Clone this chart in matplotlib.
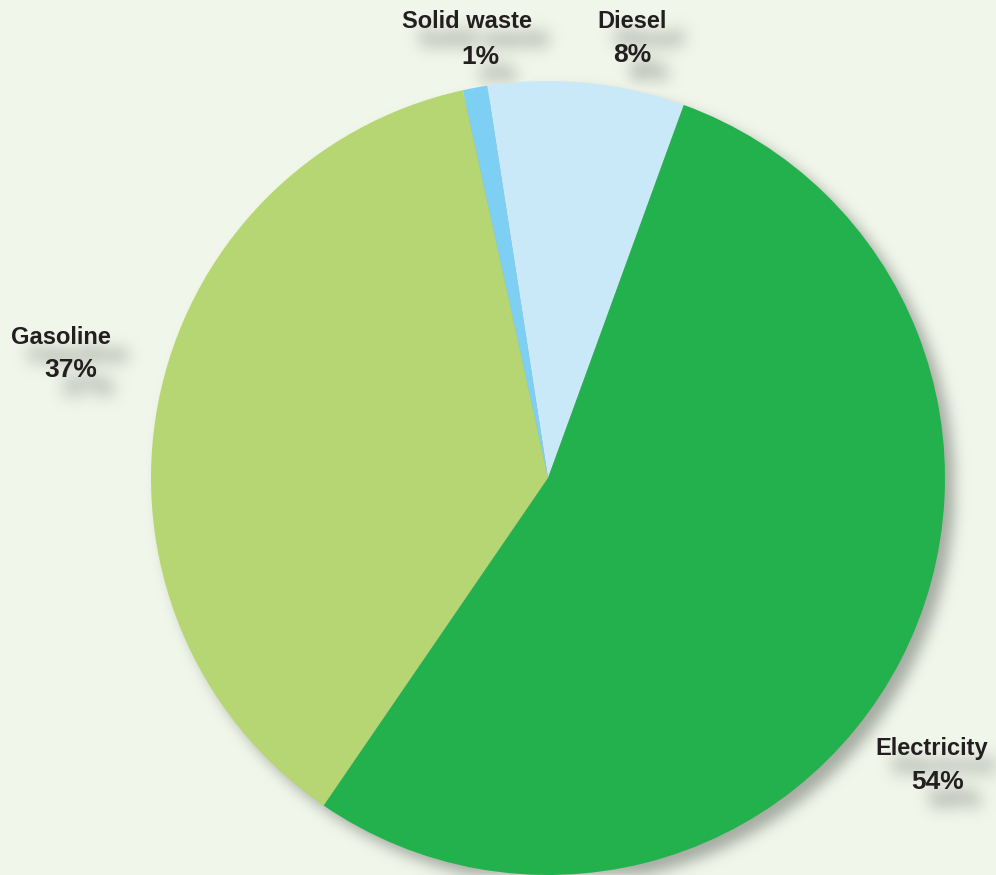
import numpy as np
import matplotlib
matplotlib.use('Agg')
import matplotlib.pyplot as plt

# fuel shares, counter-clockwise from the diesel/electricity boundary
fuels = ['Diesel', 'Solid waste', 'Gasoline', 'Electricity']
shares = [8, 1, 37, 54]
colours = ['#C9E9F9', '#7DD0F3', '#B5D673', '#23B14D']

W, H = 996, 875
bg = '#F1F6EA'
txt_col = '#231F20'
font = ['Liberation Sans Narrow', 'Liberation Sans', 'DejaVu Sans']
fsize = 17
psize = 19

cx, cy, rad = 548, 478, 397
# label placement (pixel coords, line 1 centre / line 2 centre)
lab_pos = {'Solid waste': (467, 22, 480, 57),
           'Diesel': (632, 21, 632, 55),
           'Gasoline': (61, 338, 71, 370),
           'Electricity': (932, 748, 938, 782)}


def gauss_blur(img, sigma):
    n = int(3 * sigma)
    k = np.exp(-0.5 * (np.arange(-n, n + 1) / sigma) ** 2)
    k = k / k.sum()
    out = np.array([np.convolve(r, k, mode='same') for r in img])
    out = np.array([np.convolve(c, k, mode='same') for c in out.T]).T
    return out


def draw_labels(ax, dx=0, dy=0, col=txt_col):
    for f, v in zip(fuels, shares):
        x1, y1, x2, y2 = lab_pos[f]
        ax.text(x1 + dx, H - y1 - dy, f, ha='center', va='center', fontsize=fsize,
                fontweight='bold', family=font, color=col)
        ax.text(x2 + dx, H - y2 - dy, '%d%%' % v, ha='center', va='center', fontsize=psize,
                fontweight='bold', family=font, color=col)


# offscreen pass to get a mask of the label text for the soft shadows
tmp = plt.figure(figsize=(W / 100, H / 100), dpi=100)
tax = tmp.add_axes([0, 0, 1, 1])
tax.set_xlim(0, W)
tax.set_ylim(0, H)
tax.axis('off')
draw_labels(tax, dx=17, dy=18, col='k')
tmp.canvas.draw()
buf = np.asarray(tmp.canvas.buffer_rgba())[:, :, 0].astype(float)
plt.close(tmp)
txt_mask = 1 - buf / 255.0
txt_mask = np.clip(gauss_blur(txt_mask, 8) * 2.2, 0, 1)

# drop shadow of the pie
yy, xx = np.mgrid[0:H, 0:W]
disk = (((xx - cx - 9) ** 2 + (yy - cy - 9) ** 2) <= rad ** 2).astype(float)
pie_sh = gauss_blur(disk, 7) * 0.6

alpha = np.clip(np.maximum(pie_sh, txt_mask * 0.4), 0, 1)
shadow = np.zeros((H, W, 4))
shadow[:, :, 0] = 0.45
shadow[:, :, 1] = 0.48
shadow[:, :, 2] = 0.45
shadow[:, :, 3] = alpha

fig = plt.figure(figsize=(W / 100, H / 100), dpi=100, facecolor=bg)
ax = fig.add_axes([0, 0, 1, 1])
ax.set_facecolor(bg)
ax.imshow(shadow, extent=(0, W, 0, H), origin='upper', zorder=1, interpolation='bilinear')
wedges, _ = ax.pie(shares, colors=colours, startangle=70, counterclock=True,
                   center=(cx, H - cy), radius=rad,
                   wedgeprops=dict(linewidth=0))
for w in wedges:
    w.set_zorder(2)
draw_labels(ax)
ax.set_xlim(0, W)
ax.set_ylim(0, H)
ax.set_aspect('auto')
ax.axis('off')

fig.savefig('out.png', dpi=100, facecolor=bg)
